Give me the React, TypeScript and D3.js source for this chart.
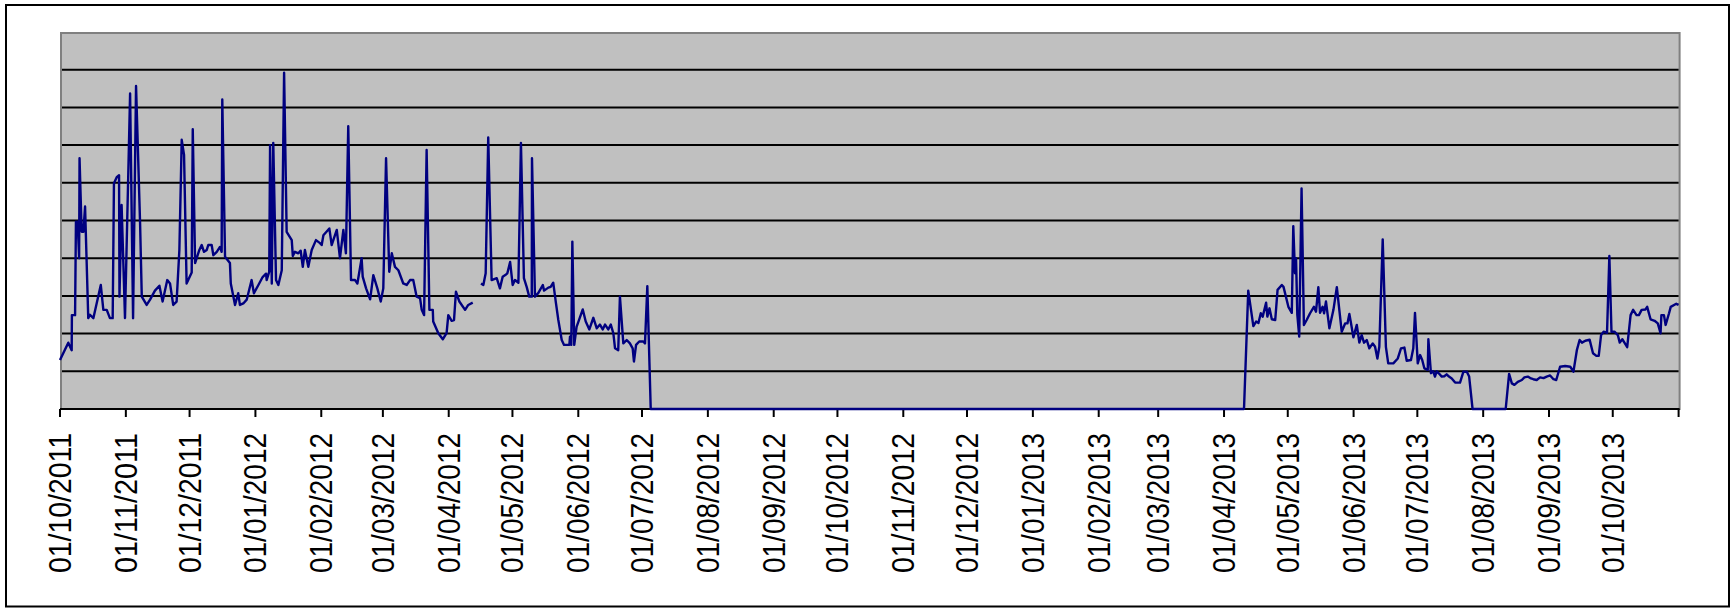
import React from "react";
import * as d3 from "d3";

// Days since 01/10/2011 and the reading at that moment (null = gap in the series)
const dayOffsets: number[] = [
  0, 3.9, 5.5, 5.6, 7.1, 7.5, 8.3, 9.0, 9.2, 10.2, 11.0, 11.8, 13.3, 14.1, 15.7, 19.2, 20.4, 22.0, 23.5, 24.8,
  25.4, 26.7, 27.8, 28.0, 29.0, 30.6, 33.0, 34.4, 35.8, 37.7, 38.5, 40.8, 42.4, 44.7, 46.8, 48.3, 50.5, 51.8, 53.3, 54.9,
  56.2, 57.3, 58.4, 59.6, 62.0, 62.5, 63.6, 65.6, 66.7, 67.8, 69.1, 69.8, 71.4, 72.2, 73.8, 75.3, 76.1, 76.4, 77.7, 80.0,
  80.4, 82.4, 83.9, 84.7, 86.3, 87.9, 90.2, 91.3, 93.4, 95.4, 97.0, 97.3, 98.5, 98.9, 99.7, 100.4, 101.7, 102.8, 104.4, 105.5,
  106.7, 109.1, 109.6, 110.6, 112.2, 113.3, 114.3, 115.3, 116.9, 118.5, 120.5, 122.4, 123.2, 124.0, 126.8, 127.9, 130.3, 131.8, 133.4, 134.6,
  135.7, 137.0, 138.9, 140.0, 142.0, 142.5, 144.1, 146.0, 147.5, 149.4, 151.0, 152.2, 153.5, 155.0, 156.2, 157.7, 159.3, 161.6, 163.2, 164.8,
  166.3, 167.9, 169.5, 170.3, 171.4, 172.6, 173.9, 175.5, 175.7, 178.1, 180.2, 182.0, 182.8, 184.4, 185.5, 186.4, 188.0, 190.7, 192.2, 194.3,
  196.0,
  198.2, 199.3, 200.4, 201.6, 203.2, 205.6, 207.1, 208.4, 210.0, 210.6, 211.9, 213.1, 214.2, 215.8, 217.0, 218.4, 219.7, 220.9, 222.1, 222.2,
  223.6, 225.2, 227.3, 227.9, 229.9, 231.0, 232.2, 233.5, 234.6, 236.2, 237.3, 239.8, 240.1, 240.7, 241.2, 242.1, 243.2, 246.1, 247.5, 249.2,
  251.1, 252.7, 254.2, 255.5, 256.6, 258.1, 259.3, 260.5, 261.3, 262.8, 263.6, 265.2, 266.8, 268.3, 269.6, 270.2, 271.2, 272.7, 274.6, 275.4,
  276.5, 278.1, 557.4,
  559.4, 561.8, 563.1, 564.2, 565.3, 566.2, 567.8, 568.4, 569.4, 570.5, 572.1, 573.2, 575.2, 576.0, 578.3, 579.9, 580.6, 581.4, 581.9, 582.5,
  583.4, 584.5, 585.6, 586.9, 588.5, 590.3, 591.3, 592.4, 593.2, 594.4, 595.1, 596.0, 597.6, 599.5, 601.1, 603.4, 605.0, 606.1, 607.0, 607.8,
  608.9, 610.5, 611.7, 612.8, 613.9, 615.2, 616.4, 618.0, 619.1, 620.2, 621.1, 622.7, 624.2, 625.3, 627.7, 629.8, 631.3, 632.9, 634.0, 636.0,
  637.1, 637.9, 639.2, 640.3, 641.3, 642.3, 643.9, 644.2, 645.4, 646.5, 647.3, 648.1, 649.2, 650.5, 651.7, 652.8, 653.9, 655.2, 656.8, 659.1,
  660.7, 662.3, 663.4, 665.0, 680.6, 682.2, 683.5, 684.7, 686.3, 688.2, 689.4, 691.0, 692.5, 693.6, 695.2, 696.8, 698.4, 699.9, 701.5, 703.1,
  704.4, 706.2, 708.6, 711.0, 712.5, 714.1, 715.4, 716.5, 718.1, 720.1, 721.7, 723.3, 724.4, 725.5, 726.7, 728.3, 729.4, 730.4, 731.8, 733.4,
  734.3, 735.5, 736.5, 737.8, 739.4, 740.6, 742.2, 743.3, 744.6, 746.4, 747.2, 748.8, 750.7, 752.2, 753.5, 753.9, 755.1, 755.9, 757.5, 758.3,
  760.9, 762.0,
];

const readings: (number | null)[] = [
  1.3, 1.76, 1.56, 2.49, 2.49, 4.97, 4.97, 4.0, 6.65, 4.7, 4.7, 5.37, 2.41, 2.5, 2.41, 3.29, 2.63, 2.63, 2.41, 2.41,
  5.99, 6.15, 6.2, 2.98, 5.41, 2.41, 8.37, 2.41, 8.57, 4.93, 2.98, 2.76, 2.9, 3.14, 3.27, 2.85, 3.42, 3.33, 2.76, 2.85,
  4.22, 7.14, 6.74, 3.33, 3.62, 7.42, 3.87, 4.22, 4.35, 4.17, 4.22, 4.35, 4.35, 4.08, 4.17, 4.3, 4.17, 8.21, 4.04, 3.87,
  3.33, 2.76, 3.07, 2.76, 2.8, 2.9, 3.42, 3.07, 3.29, 3.5, 3.59, 3.42, 3.64, 7.0, 3.33, 7.06, 3.42, 3.29, 3.68, 8.92,
  4.7, 4.48, 4.06, 4.17, 4.13, 4.2, 3.77, 4.22, 3.77, 4.22, 4.48, 4.4, 4.35, 4.61, 4.79, 4.35, 4.75, 4.0, 4.75, 4.13,
  7.5, 3.42, 3.42, 3.33, 4.0, 3.51, 3.2, 2.91, 3.55, 3.2, 2.85, 3.2, 6.65, 3.64, 4.13, 3.77, 3.68, 3.33, 3.29, 3.42,
  3.42, 2.98, 2.94, 2.63, 2.49, 6.87, 2.63, 2.63, 2.32, 2.01, 1.85, 2.01, 2.49, 2.34, 2.36, 3.11, 2.85, 2.63, 2.76, 2.82,
  null,
  3.33, 3.29, 3.6, 7.2, 3.42, 3.47, 3.2, 3.51, 3.57, 3.6, 3.9, 3.29, 3.42, 3.35, 7.06, 3.47, 3.24, 2.98, 2.98, 6.65,
  2.98, 3.08, 3.29, 3.14, 3.22, 3.24, 3.35, 2.8, 2.36, 1.83, 1.7, 1.7, 1.92, 1.7, 4.44, 1.7, 2.18, 2.64, 2.32, 2.11,
  2.42, 2.14, 2.24, 2.11, 2.24, 2.11, 2.24, 2.01, 1.61, 1.56, 2.98, 1.74, 1.83, 1.74, 1.61, 1.26, 1.7, 1.79, 1.79, 1.74,
  3.26, 0, 0,
  3.14, 2.2, 2.32, 2.28, 2.54, 2.45, 2.82, 2.45, 2.67, 2.38, 2.36, 3.16, 3.29, 3.24, 2.71, 2.55, 4.85, 3.6, 4.0, 2.5,
  1.92, 5.85, 2.23, 2.36, 2.54, 2.71, 2.58, 3.23, 2.55, 2.71, 2.54, 2.85, 2.14, 2.63, 3.23, 2.05, 2.27, 2.27, 2.52, 2.27,
  1.9, 2.23, 1.76, 1.96, 1.76, 1.83, 1.61, 1.74, 1.65, 1.34, 1.65, 4.5, 1.65, 1.21, 1.21, 1.34, 1.61, 1.63, 1.28, 1.3,
  1.61, 2.55, 1.21, 1.43, 1.3, 1.08, 1.04, 1.85, 0.95, 1.0, 0.86, 1.0, 0.94, 0.86, 0.87, 0.92, 0.86, 0.81, 0.7, 0.7,
  0.99, 0.99, 0.86, 0, 0, 0.93, 0.68, 0.64, 0.72, 0.77, 0.84, 0.86, 0.81, 0.79, 0.77, 0.84, 0.82, 0.86, 0.89, 0.79,
  0.77, 1.12, 1.14, 1.12, 0.99, 1.56, 1.83, 1.76, 1.81, 1.84, 1.48, 1.41, 1.41, 1.96, 2.05, 2.02, 4.06, 2.05, 2.05, 1.96,
  1.76, 1.85, 1.76, 1.64, 2.49, 2.63, 2.49, 2.49, 2.63, 2.64, 2.71, 2.38, 2.34, 2.27, 2.01, 2.49, 2.49, 2.23, 2.54, 2.71,
  2.79, 2.76,
];

const startDate = new Date(2011, 9, 1);
const endDate = new Date(2013, 10, 1);
const yMax = 10;
const gridValues: number[] = [1, 2, 3, 4, 5, 6, 7, 8, 9];

if (typeof document !== "undefined") {
  document.body.style.margin = "0";
}

const W = 1735;
const H = 608;
const plot = { left: 60, right: 1678.6, top: 32, bottom: 409 };

export default function App() {
  const x = d3.scaleTime().domain([startDate, endDate]).range([plot.left, plot.right]);
  const y = d3.scaleLinear().domain([0, yMax]).range([plot.bottom, plot.top]);

  const pts = dayOffsets.map((d, i) => ({
    t: new Date(startDate.getTime() + d * 86400000),
    v: readings[i],
  }));

  const line = d3
    .line<{ t: Date; v: number | null }>()
    .defined((p) => p.v !== null)
    .x((p) => x(p.t))
    .y((p) => y(p.v as number));

  const ticks = d3.timeMonth.range(startDate, d3.timeDay.offset(endDate, 1));
  const fmt = d3.timeFormat("%d/%m/%Y");

  return (
    <svg width={W} height={H} style={{ display: "block" }}>
      <rect x={0} y={0} width={W} height={H} fill="#ffffff" />
      <rect x={6} y={5} width={1723} height={601.5} fill="#ffffff" stroke="#000000" strokeWidth={2} />
      <rect
        x={plot.left + 1}
        y={plot.top + 1}
        width={plot.right - plot.left}
        height={plot.bottom - plot.top - 1}
        fill="#C0C0C0"
        stroke="#808080"
        strokeWidth={2}
      />
      {gridValues.map((g) => (
        <line
          key={g}
          x1={plot.left + 2}
          x2={plot.right}
          y1={y(g)}
          y2={y(g)}
          stroke="#000000"
          strokeWidth={2}
        />
      ))}
      <line x1={plot.left} x2={plot.right + 1} y1={plot.bottom} y2={plot.bottom} stroke="#000000" strokeWidth={2} />
      {ticks.map((t, i) => (
        <g key={i} transform={`translate(${x(t)},0)`}>
          <line y1={plot.bottom} y2={plot.bottom + 8} stroke="#000000" strokeWidth={2} />
          {i < ticks.length - 1 && (
            <text
              transform={`translate(0,433) rotate(-90)`}
              textAnchor="end"
              dy="0.36em"
              fontFamily="'Liberation Sans', Arial, sans-serif"
              fontSize={30.5}
              textLength={140}
              lengthAdjust="spacingAndGlyphs"
              fill="#000000"
            >
              {fmt(t)}
            </text>
          )}
        </g>
      ))}
      <path d={line(pts) || ""} fill="none" stroke="#000080" strokeWidth={2.4} strokeLinejoin="round" />
    </svg>
  );
}
